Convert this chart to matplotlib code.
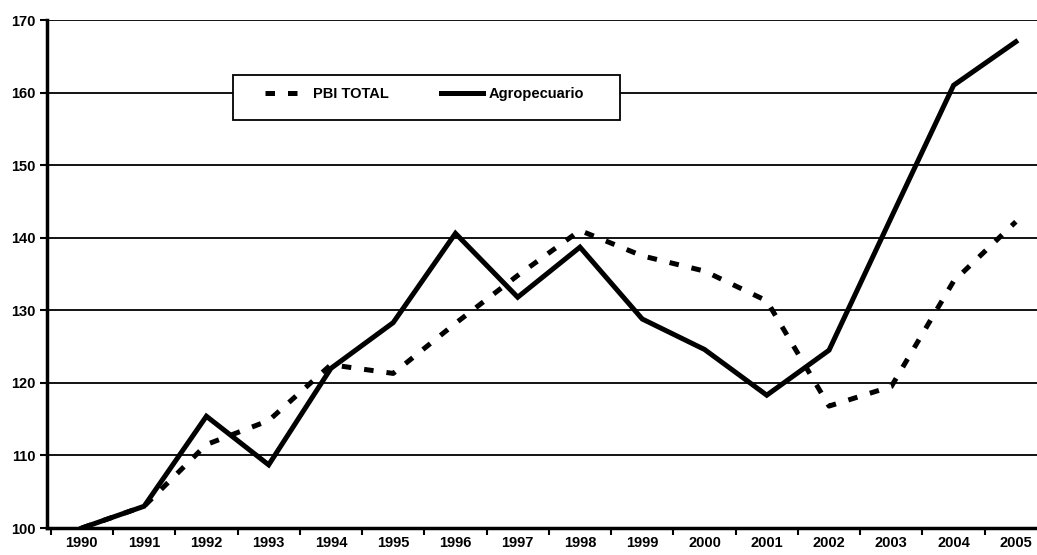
import matplotlib.pyplot as plt
from matplotlib.patches import Rectangle
import numpy as np

years = list(range(1990, 2006))
pbi_total = [100, 103, 111.5, 114.8, 122.5, 121.3, 128.2, 134.8, 141, 137.5,
             135.4, 131.3, 116.8, 119.5, 134, 142.2]
agropecuario = [100, 103, 115.4, 108.7, 122, 128.3, 140.6, 131.8, 138.7, 128.8,
                124.6, 118.3, 124.5, 142.8, 161, 167]
yticks = [100, 110, 120, 130, 140, 150, 160, 170]

plt.rcParams['font.family'] = ['Liberation Sans', 'DejaVu Sans']

W, H = 1037, 555
fig = plt.figure(figsize=(W / 100, H / 100), dpi=100)
ax = fig.add_axes([47 / W, 27 / H, 1 - 47 / W, 508 / H])

ax.plot(years, pbi_total, color='black', lw=3.6, ls=(0, (1.9, 2.6)),
        dash_capstyle='butt', label='PBI TOTAL')
ax.plot(years, agropecuario, color='black', lw=3.6, solid_joinstyle='miter',
        label='Agropecuario')

ax.set_xlim(1989.44, 2005.34)
ax.set_ylim(100, 170)
ax.set_yticks(yticks)
ax.yaxis.grid(True, color='black', lw=1.3)
ax.set_axisbelow(True)

ax.set_xticks(years)
ax.set_xticks(np.arange(1989.5, 2005.5, 1), minor=True)
ax.tick_params(axis='x', which='major', length=0, pad=6)
ax.tick_params(axis='x', which='minor', length=5, width=1.5, direction='out')
ax.tick_params(axis='y', length=5, width=1.5, direction='out', pad=3)
for lab in ax.get_xticklabels() + ax.get_yticklabels():
    lab.set_fontsize(10.5)
    lab.set_fontweight('bold')

for s in ['top', 'right']:
    ax.spines[s].set_visible(False)
ax.spines['left'].set_linewidth(2.5)
ax.spines['bottom'].set_linewidth(2.5)

def to_axes(px, py):
    return (px - 47) / (W - 47), (528 - py) / 508

x0, y0 = to_axes(233, 120)
x1, y1 = to_axes(620, 75)
ax.add_patch(Rectangle((x0, y0), x1 - x0, y1 - y0, transform=ax.transAxes,
                       facecolor='white', edgecolor='black', lw=1.3, zorder=5))
lx, ly = to_axes(258, 94)
leg = ax.legend(loc='center left', bbox_to_anchor=(lx, ly), ncol=2,
                frameon=False, handlelength=2.9, columnspacing=3.6,
                borderpad=0, handletextpad=0.35,
                prop={'size': 10.5, 'weight': 'bold'})
leg.set_zorder(6)

fig.savefig('out.png', dpi=100)
